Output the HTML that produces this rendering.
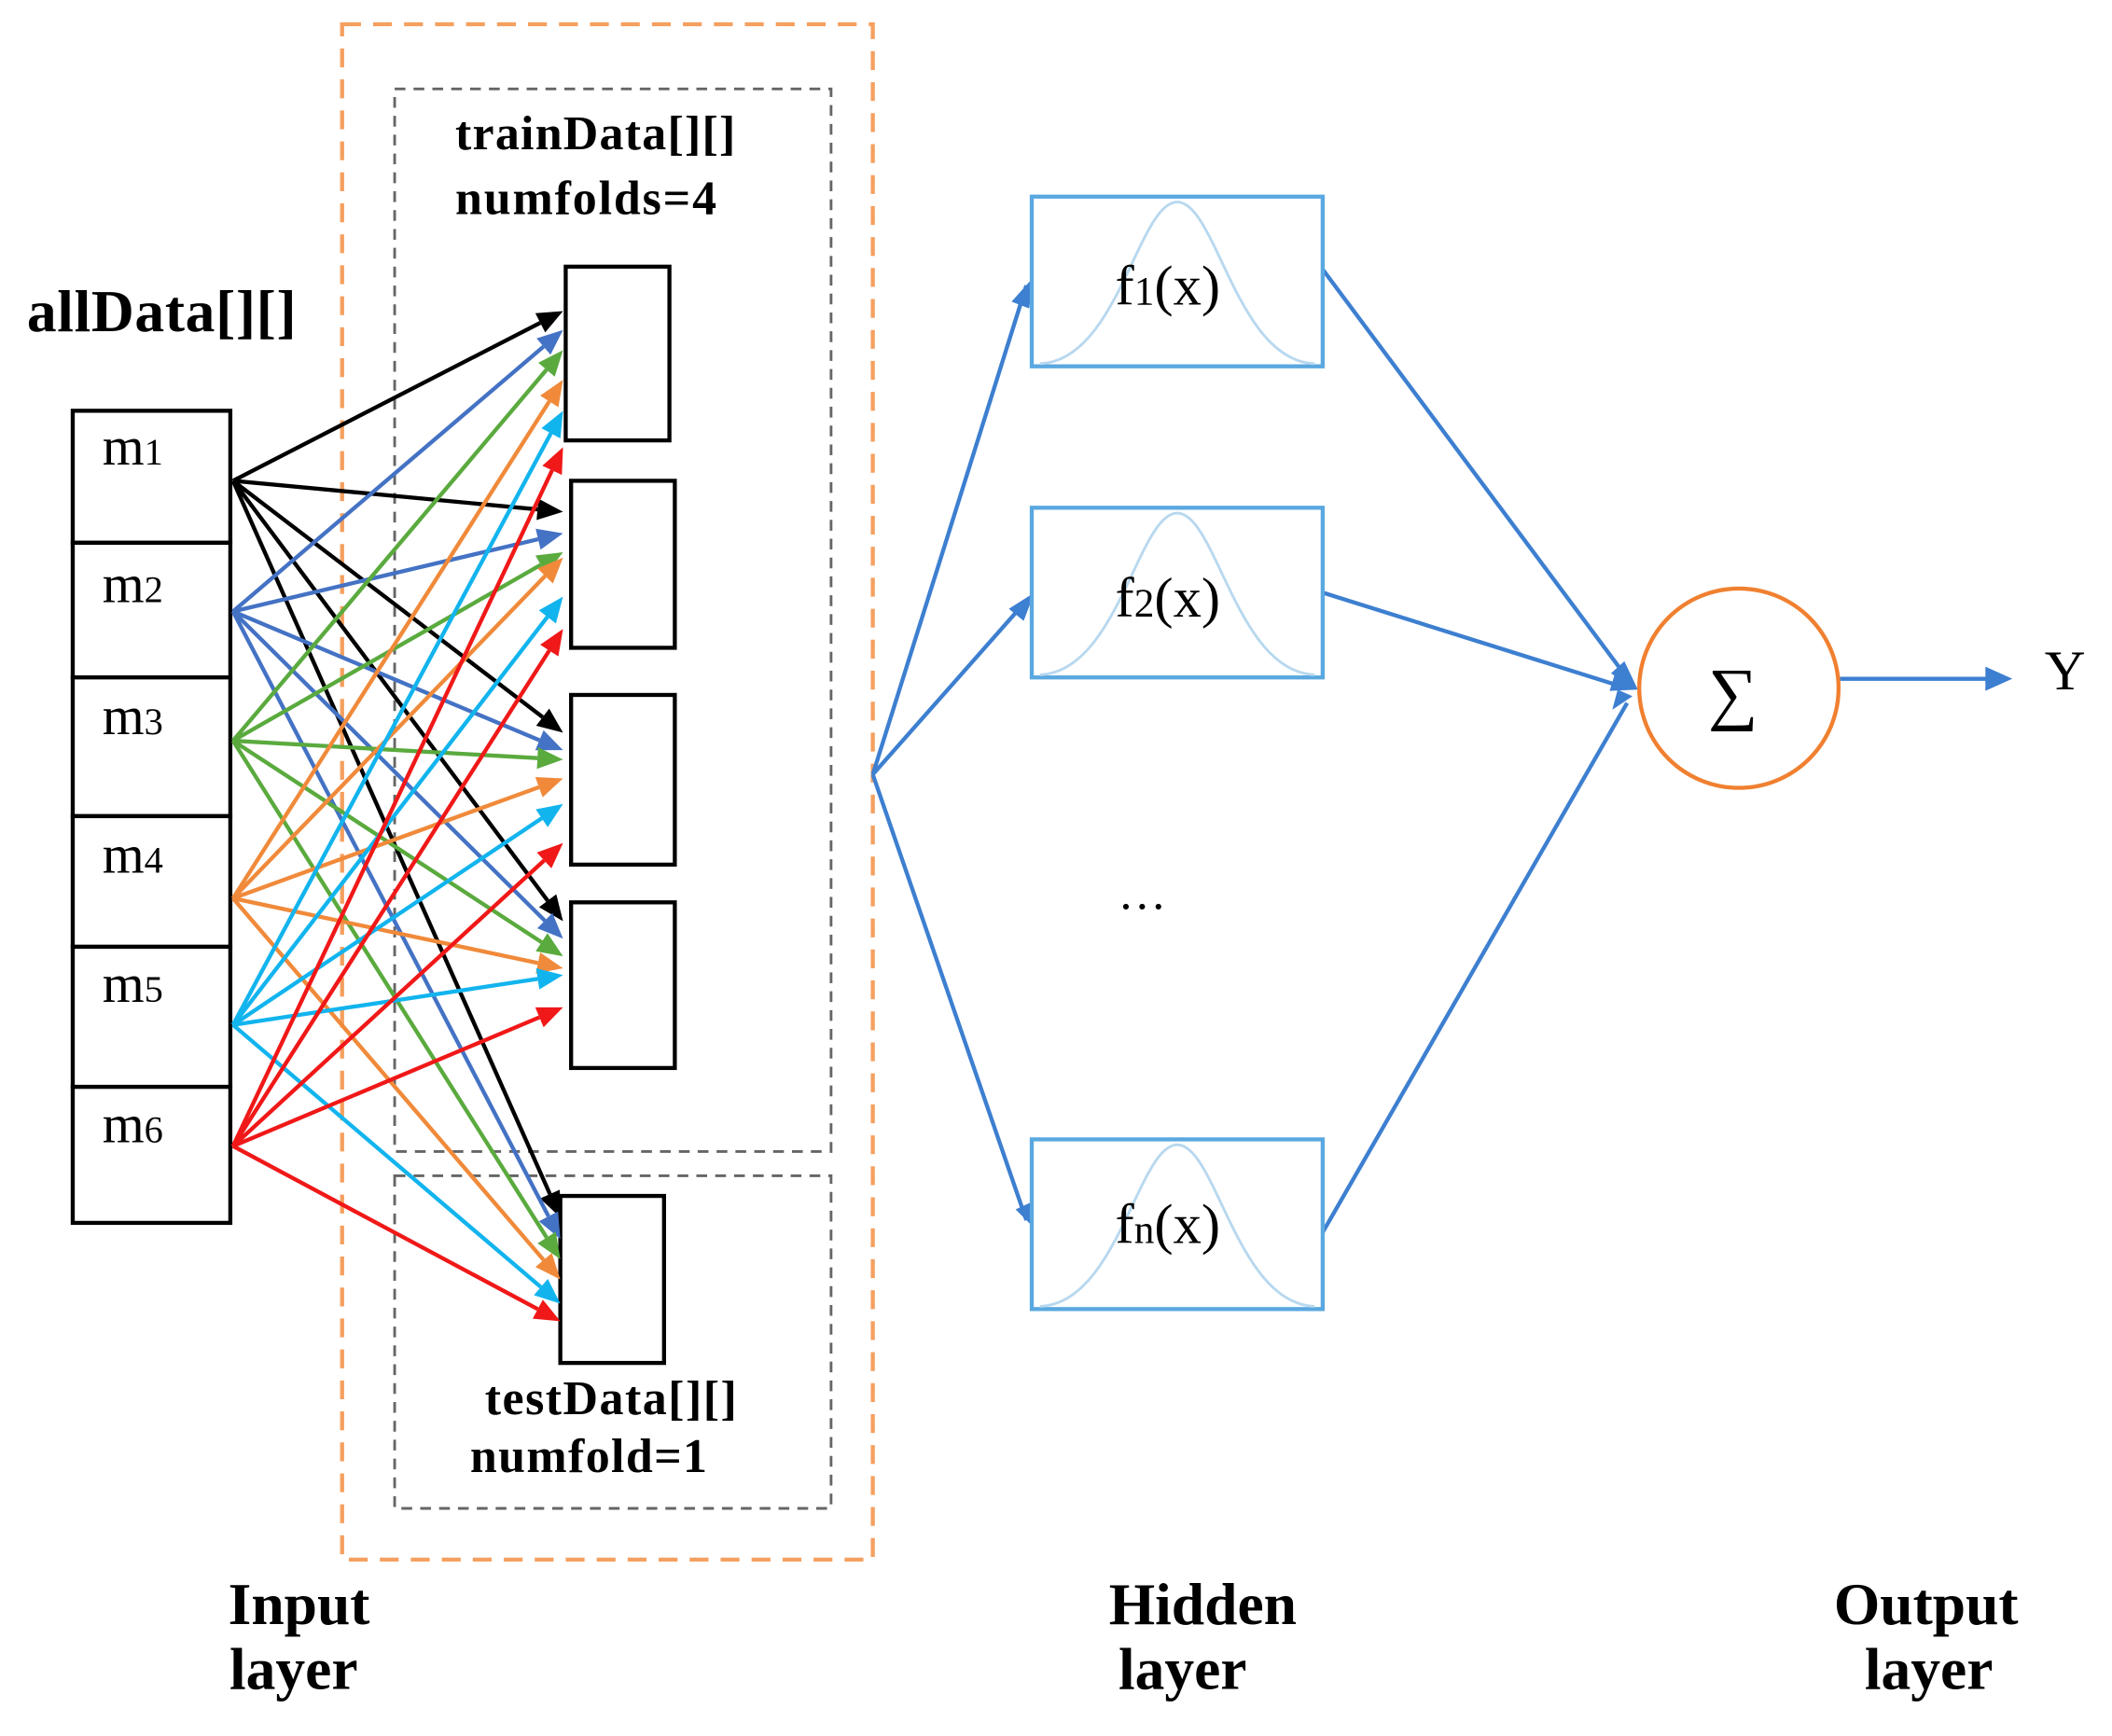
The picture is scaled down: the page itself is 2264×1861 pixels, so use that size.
<!DOCTYPE html>
<html><head><meta charset="utf-8"><style>
html,body{margin:0;padding:0;background:#fff;}
svg{display:block;}
.b{font-family:"Liberation Serif",serif;font-weight:bold;}
.s{font-family:"Liberation Serif",serif;}
</style></head><body>
<svg id="s" width="2264" height="1861" viewBox="0 0 1568 1289" preserveAspectRatio="none" xmlns="http://www.w3.org/2000/svg">
<rect width="1568" height="1289" fill="#fff"/>
<rect x="254" y="18" width="394" height="1140" fill="none" stroke="#f4a060" stroke-width="3" stroke-dasharray="14,9"/>
<rect x="293" y="66" width="324" height="789" fill="none" stroke="#666" stroke-width="2" stroke-dasharray="8,6"/>
<rect x="293" y="873" width="324" height="247" fill="none" stroke="#666" stroke-width="2" stroke-dasharray="8,6"/>
<text class="b" x="338" y="111" font-size="36" textLength="208">trainData[][]</text>
<text class="b" x="338" y="159" font-size="36" textLength="194">numfolds=4</text>
<text class="b" x="360" y="1050" font-size="36" textLength="187">testData[][]</text>
<text class="b" x="349" y="1093" font-size="36" textLength="176">numfold=1</text>
<text class="b" x="20" y="246" font-size="44" textLength="200">allData[][]</text>
<g fill="#fff" stroke="#000" stroke-width="3">
<rect x="54" y="305" width="117" height="98"/><rect x="54" y="403" width="117" height="100"/>
<rect x="54" y="503" width="117" height="103"/><rect x="54" y="606" width="117" height="97"/>
<rect x="54" y="703" width="117" height="104"/><rect x="54" y="807" width="117" height="101"/>
<rect x="420" y="198" width="77" height="129"/><rect x="424" y="357" width="77" height="124"/>
<rect x="424" y="516" width="77" height="126"/><rect x="424" y="670" width="77" height="123"/>
<rect x="416" y="888" width="77" height="124"/>
</g>
<g class="s" font-size="40">
<text x="76" y="345">m<tspan font-size="28">1</tspan></text>
<text x="76" y="447">m<tspan font-size="28">2</tspan></text>
<text x="76" y="545">m<tspan font-size="28">3</tspan></text>
<text x="76" y="648">m<tspan font-size="28">4</tspan></text>
<text x="76" y="744">m<tspan font-size="28">5</tspan></text>
<text x="76" y="848">m<tspan font-size="28">6</tspan></text>
</g>
<g id="lines"></g>
<g stroke="#3d7fd0" stroke-width="3" fill="none">
<line x1="648" y1="575" x2="762" y2="212"/><line x1="648" y1="575" x2="762" y2="446"/><line x1="648" y1="575" x2="762" y2="906"/>
<line x1="982" y1="200" x2="1210" y2="506"/><line x1="982" y1="440" x2="1208" y2="511"/><line x1="982" y1="915" x2="1208" y2="522"/>
<line x1="1366" y1="504" x2="1480" y2="504"/>
</g>
<g fill="#3d7fd0">
<path d="M768,205 l-4,24 l-13,-5z"/>
<path d="M768,440 l-8,21 l-11,-9z"/>
<path d="M770,914 l-16,-16 l13,-6z"/>
<path d="M1216,512 l-20,-12 l10,-9z"/>
<path d="M1216,512 l-21,1 l4,-13z"/>
<path d="M1212,517 l-15,10 l4,-15z"/>
<path d="M1494,504 l-20,-9 l0,18z"/>
</g>
<g fill="#fff" stroke="#5aa8e0" stroke-width="3">
<rect x="766" y="146" width="216" height="126"/><rect x="766" y="377" width="216" height="126"/><rect x="766" y="846" width="216" height="126"/>
</g>
<g fill="none" stroke="#b8d8ef" stroke-width="2">
<path d="M772,270 C830,268 845,150 874,150 C903,150 918,268 976,270"/>
<path d="M772,501 C830,499 845,381 874,381 C903,381 918,499 976,501"/>
<path d="M772,970 C830,968 845,850 874,850 C903,850 918,968 976,970"/>
</g>
<g class="s" font-size="42">
<text x="828" y="226">f<tspan font-size="30">1</tspan>(x)</text>
<text x="828" y="458">f<tspan font-size="30">2</tspan>(x)</text>
<text x="828" y="923">f<tspan font-size="30">n</tspan>(x)</text>
<text x="830" y="675" font-size="36">…</text>
<text x="1518" y="512" font-size="42">Y</text>
<text x="1268" y="532" font-size="52">∑</text>
</g>
<circle cx="1291" cy="511" r="74" fill="none" stroke="#f08030" stroke-width="3"/>
<g class="b" font-size="44" text-anchor="middle">
<text x="222" y="1206">Input</text><text x="218" y="1254">layer</text>
<text x="893" y="1206">Hidden</text><text x="878" y="1254">layer</text>
<text x="1430" y="1206">Output</text><text x="1432" y="1254">layer</text>
</g>
</svg>
<script>
var src=[357,454,550,667,761,851];
var col=["#000","#4472c4","#5aaa3e","#f08a3a","#12b4ee","#f01818"];
var tg=[[418,[231,245,260,282,305,332]],[418,[380,396,410,414,443,467]],[418,[544,557,564,578,597,626]],[418,[684,697,710,719,724,748]],[416,[904,920,935,950,968,981]]];
var g=document.getElementById('lines'),h='';
for(var i=0;i<6;i++){for(var j=0;j<5;j++){var x1=173,y1=src[i],x2=tg[j][0],y2=tg[j][1][i];
var dx=x2-x1,dy=y2-y1,L=Math.sqrt(dx*dx+dy*dy),ux=dx/L,uy=dy/L,al=19,aw=8;
var bx=x2-ux*al,by=y2-uy*al;
h+='<line x1="'+x1+'" y1="'+y1+'" x2="'+bx+'" y2="'+by+'" stroke="'+col[i]+'" stroke-width="3"/>';
h+='<path d="M'+x2+','+y2+'L'+(bx-uy*aw)+','+(by+ux*aw)+'L'+(bx+uy*aw)+','+(by-ux*aw)+'Z" fill="'+col[i]+'"/>';}}
g.innerHTML=h;
</script>
</body></html>
